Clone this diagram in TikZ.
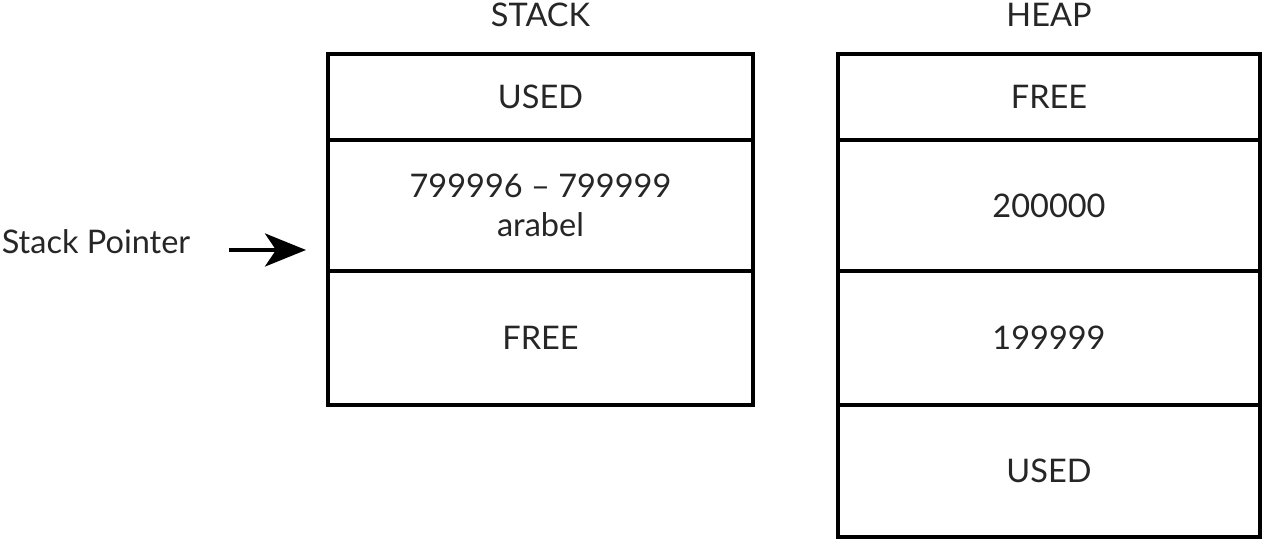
\documentclass[tikz,border=0pt]{standalone}
\usepackage{fontspec}
\setmainfont{Lato}
\usetikzlibrary{arrows.meta,positioning}

\begin{document}
\begin{tikzpicture}[line width=2pt,node distance=0pt,
cell/.style={draw,rectangle,outer sep=0pt,inner sep=0pt,align=center,
font=\fontsize{18.5}{22}\selectfont,text=black!85},
title/.style={font=\fontsize{18.5}{22}\selectfont,text=black!85}]
\useasboundingbox (0,0) rectangle (25.26,-10.78);
% stack
\node[cell,minimum width=8.5cm,minimum height=1.72cm,anchor=north] (S1) at (10.81,-1.08) {USED};
\node[cell,minimum width=8.5cm,minimum height=2.62cm] (S2) [below=of S1] {799996 -- 799999\\arabel};
\node[cell,minimum width=8.5cm,minimum height=2.68cm] (S3) [below=of S2] {FREE};
\node[title] (ST) [above=0.4cm of S1] {STACK};
% heap
\node[cell,minimum width=8.44cm,minimum height=1.72cm,anchor=north] (H1) at (20.98,-1.08) {FREE};
\node[cell,minimum width=8.44cm,minimum height=2.62cm] (H2) [below=of H1] {200000};
\node[cell,minimum width=8.44cm,minimum height=2.68cm] (H3) [below=of H2] {199999};
\node[cell,minimum width=8.44cm,minimum height=2.64cm] (H4) [below=of H3] {USED};
\node[title] (HT) [above=0.4cm of H1] {HEAP};
% pointer
\node[title,anchor=west,inner sep=0pt] (SP) at (0,-4.84) {Stack Pointer};
\coordinate (tip) at (6.12,-5.0);
\draw[line width=2.2pt,-{Stealth[length=0.82cm,width=0.66cm,inset=0.22cm]}]
  (SP.east |- tip) ++(0.75,0) -- (tip);
\end{tikzpicture}
\end{document}
